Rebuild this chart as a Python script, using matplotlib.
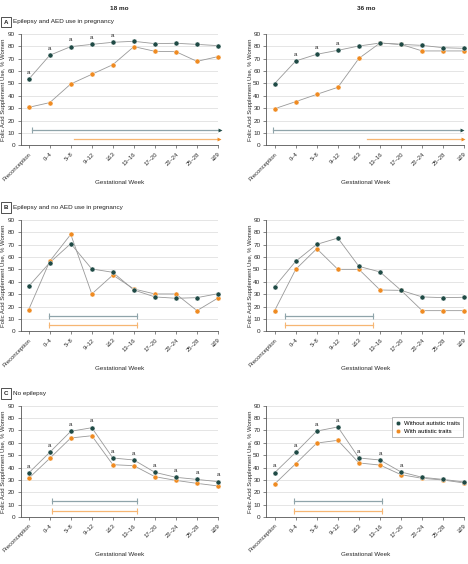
import matplotlib
matplotlib.use("Agg")
import matplotlib.pyplot as plt
import numpy as np

plt.rcParams['font.family'] = ['Liberation Sans', 'DejaVu Sans']

weeks = ["Preconception", "0–4", "5–8", "9–12", "≥13", "13–16", "17–20", "22–24", "25–28", "≥29"]

# Panel A: Epilepsy and AED use in pregnancy
a18_without = [53.4, 72.8, 79.8, 81.6, 83.3, 84.1, 82.2, 82.5, 81.6, 80.6]
a18_with = [30.7, 34.5, 49.6, 57.4, 65.2, 79.8, 76.0, 75.7, 67.9, 71.7]
a36_without = [49.9, 68.2, 73.6, 76.8, 80.3, 82.7, 81.6, 80.8, 78.9, 78.4]
a36_with = [29.6, 35.3, 41.2, 46.9, 70.3, 82.7, 81.6, 76.3, 76.3, 76.3]
# Panel B: Epilepsy and no AED use in pregnancy
b18_without = [36.4, 55.5, 70.9, 50.4, 47.7, 33.4, 27.8, 26.7, 27.2, 30.4]
b18_with = [17.5, 56.6, 78.4, 30.2, 45.5, 34.2, 30.2, 30.2, 16.7, 26.9]
b36_without = [36.1, 56.6, 70.3, 75.4, 52.5, 48.0, 33.1, 27.8, 27.2, 27.5]
b36_with = [16.7, 50.1, 66.8, 50.1, 50.1, 33.4, 33.1, 16.7, 16.7, 16.7]
# Panel C: No epilepsy
c18_without = [35.6, 52.3, 69.3, 72.2, 47.7, 46.1, 36.1, 32.1, 30.4, 28.6]
c18_with = [31.3, 47.4, 63.9, 65.7, 42.3, 41.5, 32.6, 29.6, 27.2, 25.1]
c36_without = [35.8, 52.3, 69.5, 72.8, 47.7, 46.1, 36.4, 32.1, 30.4, 28.3]
c36_with = [26.7, 43.1, 59.8, 62.0, 43.7, 42.0, 34.2, 31.3, 29.9, 27.5]

# significance markers ("a") shown above the "without" series
a18_sig = [1, 1, 1, 1, 1, 0, 0, 0, 0, 0]
a36_sig = [0, 1, 1, 1, 0, 0, 0, 0, 0, 0]
b18_sig = [0] * 10
b36_sig = [0] * 10
c18_sig = [1] * 10
c36_sig = [1, 1, 1, 1, 1, 1, 1, 0, 0, 0]

# ranges (in gestational-week category units): start, end, level
a18_range_without = [0.14, 9.1, 12.4]
a18_range_with = [2.16, 9.05, 5.4]
a36_range_without = [-0.1, 8.9, 12.4]
a36_range_with = [4.38, 8.95, 5.4]
b18_range_without = [0.95, 5.13, 12.7]
b18_range_with = [0.95, 5.13, 5.4]
b36_range_without = [0.5, 4.68, 12.7]
b36_range_with = [0.5, 4.66, 5.4]
c18_range_without = [1.1, 5.13, 12.7]
c18_range_with = [1.1, 5.13, 5.1]
c36_range_without = [0.9, 5.08, 12.7]
c36_range_with = [0.9, 5.08, 5.1]

DARK = '#1f4a45'
ORANGE = '#ef8b22'
DARK_LINE = '#8fa4aa'
ORANGE_LINE = '#f6b673'
CONNECT = '#999999'
TXT = '#2a2a2a'
FS = 4.4

fig = plt.figure(figsize=(4.68, 5.64), dpi=100)

W = 468.0
H = 564.0
col_x = [(20.7, 197.3), (266.0, 198.3)]
row_y = [(34.0, 145.3), (220.0, 331.3), (405.7, 517.0)]
xlims = [(-0.38, 9.0), (-0.41, 9.0)]
ylabel_x = [-0.072, -0.068]

panels = [
    [(a18_without, a18_with, a18_sig, a18_range_without, a18_range_with, 'arrow'),
     (a36_without, a36_with, a36_sig, a36_range_without, a36_range_with, 'arrow')],
    [(b18_without, b18_with, b18_sig, b18_range_without, b18_range_with, 'bar'),
     (b36_without, b36_with, b36_sig, b36_range_without, b36_range_with, 'bar')],
    [(c18_without, c18_with, c18_sig, c18_range_without, c18_range_with, 'bar'),
     (c36_without, c36_with, c36_sig, c36_range_without, c36_range_with, 'bar')],
]

x = np.arange(len(weeks))
for r, row in enumerate(panels):
    for c, (wo, wi, sig, rwo, rwi, kind) in enumerate(row):
        left, width = col_x[c]
        top, bottom = row_y[r]
        hgt = bottom - top
        ax = fig.add_axes([left / W, 1 - bottom / H, width / W, hgt / H])
        ax.set_xlim(*xlims[c])
        ax.set_ylim(0, 90)
        ax.set_yticks(np.arange(0, 91, 10))
        ax.set_xticks(x)
        ax.set_xticklabels(weeks, rotation=45, ha='right', rotation_mode='anchor', fontsize=4.2, color=TXT)
        ax.tick_params(axis='y', labelsize=4.6, length=2.5, width=0.5, colors='#555555', labelcolor=TXT, pad=1.5)
        ax.tick_params(axis='x', length=2.5, width=0.5, colors='#555555', labelcolor=TXT, pad=2)
        ax.grid(axis='y', color='#e0e0e0', linewidth=0.6)
        ax.set_axisbelow(True)
        for s in ['top', 'right']:
            ax.spines[s].set_visible(False)
        for s in ['left', 'bottom']:
            ax.spines[s].set_linewidth(0.6)
            ax.spines[s].set_color('#555555')
        ax.set_ylabel('Folic Acid Supplement Use, % Women', fontsize=4.3, color=TXT)
        ax.yaxis.set_label_coords(ylabel_x[c], 0.5)
        ax.set_xlabel('Gestational Week', fontsize=4.5, color=TXT)
        ax.xaxis.set_label_coords(0.5, -35.0 / hgt)

        ax.plot(x, wo, color=CONNECT, lw=0.6, zorder=2)
        ax.plot(x, wi, color=CONNECT, lw=0.6, zorder=2)
        ax.plot(x, wi, 'o', color=ORANGE, ms=3.6, mec='white', mew=0.3, zorder=3, clip_on=False,
                label='With autistic traits')
        ax.plot(x, wo, 'o', color=DARK, ms=3.6, mec='white', mew=0.3, zorder=4, clip_on=False,
                label='Without autistic traits')
        for xi, yi, s in zip(x, wo, sig):
            if s:
                ax.annotate('a', (xi, yi), xytext=(0, 3.2), textcoords='offset points',
                            ha='center', va='bottom', fontsize=FS, color=TXT, annotation_clip=False)

        for rng, lc, hc in [(rwo, DARK_LINE, DARK), (rwi, ORANGE_LINE, ORANGE)]:
            s0, e0, lvl = rng
            if kind == 'arrow':
                ax.plot([s0, e0], [lvl, lvl], color=lc, lw=0.9, clip_on=False, zorder=3)
                ax.plot([e0], [lvl], marker='>', color=hc, ms=2.8, mew=0, clip_on=False, zorder=4)
                if lc == DARK_LINE:
                    ax.plot([s0], [lvl], marker='|', color=lc, ms=4, mew=0.8, clip_on=False, zorder=4)
            else:
                ax.plot([s0, e0], [lvl, lvl], color=lc, lw=0.9, zorder=3)
                ax.plot([s0, e0], [lvl, lvl], marker='|', ls='none', color=lc, ms=4, mew=0.8, zorder=4)

        if r == 2 and c == 1:
            h, l = ax.get_legend_handles_labels()
            leg = ax.legend([h[1], h[0]], [l[1], l[0]], loc='upper left', bbox_to_anchor=(0.619, 0.925),
                            fontsize=4.3, frameon=True, fancybox=False, handletextpad=0.4,
                            borderpad=0.6, labelspacing=0.45, handlelength=1.0, markerscale=0.9)
            leg.get_frame().set_edgecolor('#999999')
            leg.get_frame().set_linewidth(0.6)

# column titles
fig.text(119 / W, 1 - 8.7 / H, '18 mo', ha='center', va='center', fontsize=4.6, fontweight='bold', color='#222222')
fig.text(365.7 / W, 1 - 8.7 / H, '36 mo', ha='center', va='center', fontsize=4.6, fontweight='bold', color='#222222')

# panel labels
for letter, title, yy in [('A', 'Epilepsy and AED use in pregnancy', 22.0),
                          ('B', 'Epilepsy and no AED use in pregnancy', 207.5),
                          ('C', 'No epilepsy', 393.5)]:
    fig.text(6.2 / W, 1 - yy / H, letter, ha='center', va='center', fontsize=4.4, fontweight='bold',
             color='#222222', bbox=dict(boxstyle='square,pad=0.45', fc='white', ec='#333333', lw=0.6))
    fig.text(12.7 / W, 1 - yy / H, title, ha='left', va='center', fontsize=4.6, color='#222222')

fig.savefig('out.png', dpi=100)
